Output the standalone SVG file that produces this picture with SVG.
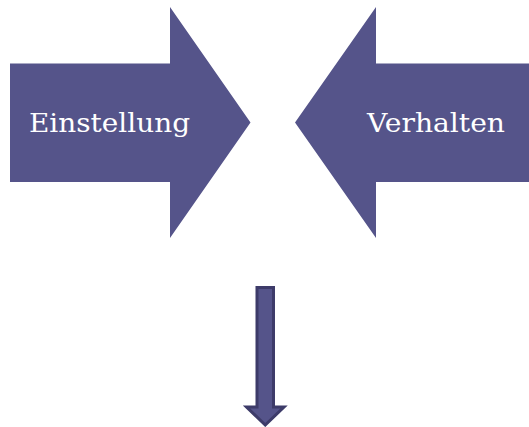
<svg xmlns="http://www.w3.org/2000/svg" width="529" height="427" viewBox="0 0 529 427">
<style>
.shape{fill:#55548a;}
.lbl{fill:#ffffff;font-family:"DejaVu Serif","Liberation Serif",serif;font-size:26.5px;}
.down{fill:#55548a;stroke:#3d3b69;stroke-width:3;}
</style>
<rect width="529" height="427" fill="#ffffff"/>
<g id="einstellung">
<polygon class="shape" points="10,63.5 170,63.5 170,7 250.5,122.5 170,238 170,182 10,182"/>
<text class="lbl" x="29" y="131.5" textLength="161" lengthAdjust="spacingAndGlyphs">Einstellung</text>
</g>
<g id="verhalten">
<polygon class="shape" points="529,63.5 376,63.5 376,7 295,122.5 376,238 376,182 529,182"/>
<text class="lbl" x="367" y="131.5" textLength="138" lengthAdjust="spacingAndGlyphs">Verhalten</text>
</g>
<g id="connectors">
<polygon class="down" points="257,287.5 273.5,287.5 273.5,407 284,407 265.25,425 246.5,407 257,407"/>
</g>
</svg>
